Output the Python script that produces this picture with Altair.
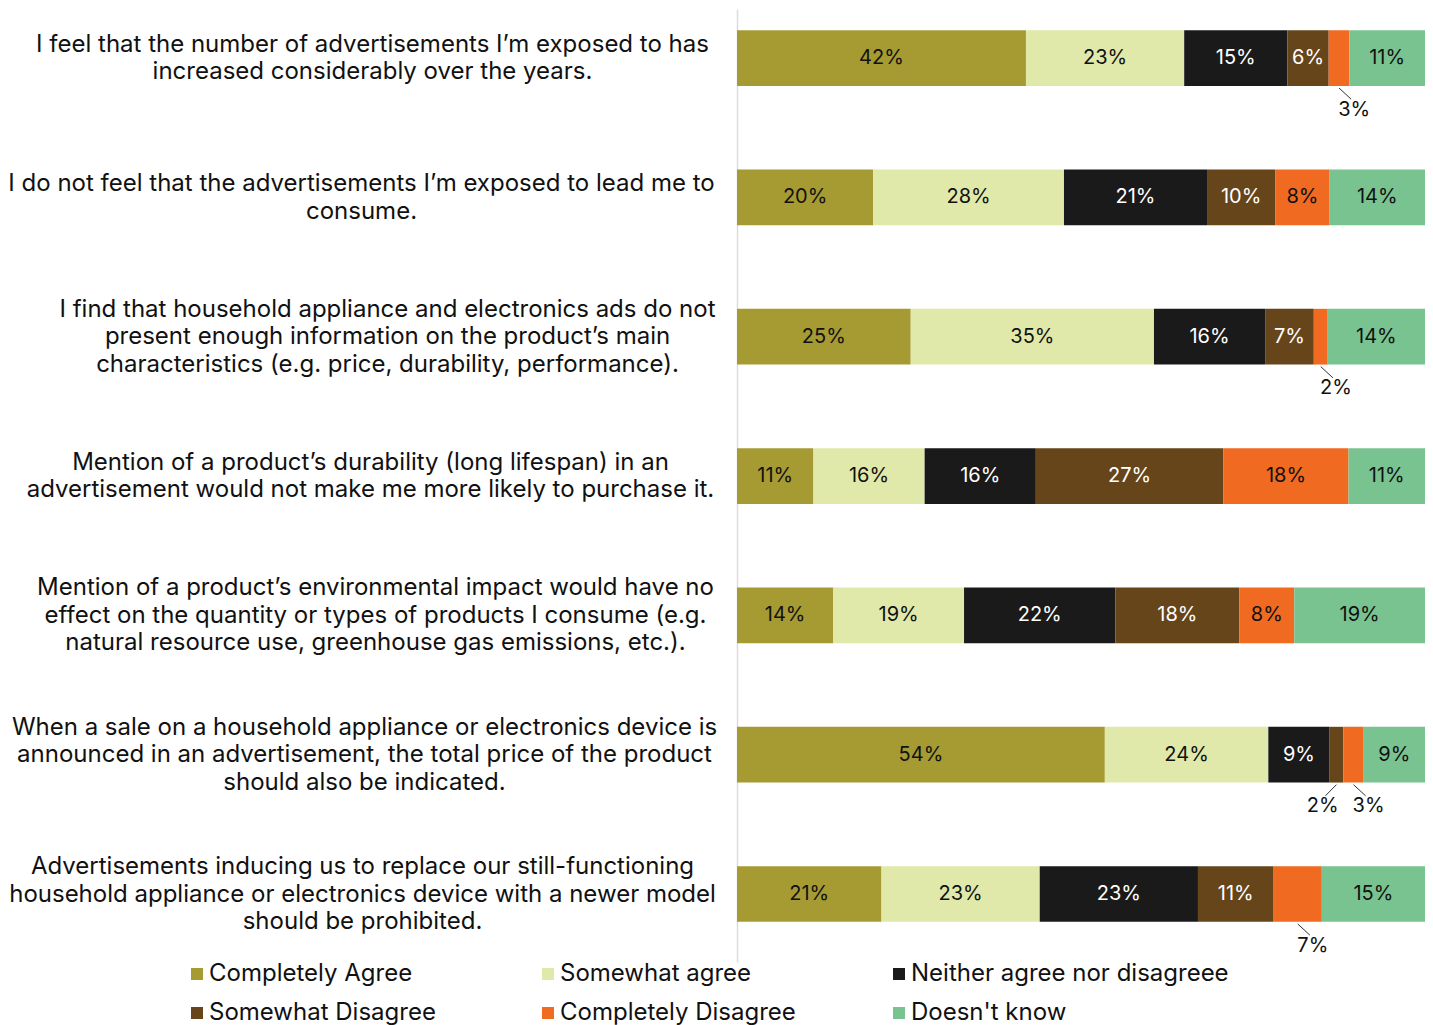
import json
import altair as alt
import pandas as pd

FONT = "Inter"

categories = ["Completely Agree", "Somewhat agree", "Neither agree nor disagreee",
              "Somewhat Disagree", "Completely Disagree", "Doesn't know"]
colors = ["#A69B33", "#E0E9A9", "#1A1A1A", "#66451A", "#F06A22", "#79C390"]

statements = [
    ["I feel that the number of advertisements I’m exposed to has",
     "increased considerably over the years."],
    ["I do not feel that the advertisements I’m exposed to lead me to",
     "consume."],
    ["I find that household appliance and electronics ads do not",
     "present enough information on the product’s main",
     "characteristics (e.g. price, durability, performance)."],
    ["Mention of a product’s durability (long lifespan) in an",
     "advertisement would not make me more likely to purchase it."],
    ["Mention of a product’s environmental impact would have no",
     "effect on the quantity or types of products I consume (e.g.",
     "natural resource use, greenhouse gas emissions, etc.)."],
    ["When a sale on a household appliance or electronics device is",
     "announced in an advertisement, the total price of the product",
     "should also be indicated."],
    ["Advertisements inducing us to replace our still-functioning",
     "household appliance or electronics device with a newer model",
     "should be prohibited."],
]

completely_agree = [42, 20, 25, 11, 14, 54, 21]
somewhat_agree = [23, 28, 35, 16, 19, 24, 23]
neither = [15, 21, 16, 16, 22, 9, 23]
somewhat_disagree = [6, 10, 7, 27, 18, 2, 11]
completely_disagree = [3, 8, 2, 18, 8, 3, 7]
doesnt_know = [11, 14, 14, 11, 19, 9, 15]

series = [completely_agree, somewhat_agree, neither,
          somewhat_disagree, completely_disagree, doesnt_know]

# segments whose label sits below the bar with a leader line
external_labels = [(0, "Completely Disagree"), (2, "Completely Disagree"),
                   (5, "Somewhat Disagree"), (5, "Completely Disagree"),
                   (6, "Completely Disagree")]
white_text = ["Neither agree nor disagreee", "Somewhat Disagree"]

# style: distance (px) from the axis to the centre of each statement block
# (blocks are right-aligned, lines centred within each block)
label_paddings = [365, 376, 350, 367, 362, 373, 375]

records = []
for r in range(len(statements)):
    for i, c in enumerate(categories):
        records.append({"row": r, "cat": c, "order": i, "value": series[i][r],
                        "external": (r, c) in external_labels,
                        "white": c in white_text})
df = pd.DataFrame(records)

LINE_H = 27.5
label_expr = json.dumps(statements, ensure_ascii=False) + "[datum.value]"
three_line_rows = [r for r, s in enumerate(statements) if len(s) == 3]
three_test = " || ".join(f"datum.value == {r}" for r in three_line_rows)
label_offset = {"condition": {"test": three_test, "value": -LINE_H},
                "value": -LINE_H / 2}
label_padding = {"condition": [{"test": f"datum.value == {r}", "value": p}
                               for r, p in enumerate(label_paddings)],
                 "value": 365}

xscale = alt.Scale(domain=[0, 1], nice=False, zero=False)
yscale = alt.Scale(domain=[-0.352, 6.488], reverse=True, nice=False, zero=False)

base = (
    alt.Chart(df)
    .transform_joinaggregate(total="sum(value)", groupby=["row"])
    .transform_window(cum="sum(value)", sort=[alt.SortField("order")],
                      groupby=["row"], frame=[None, 0])
    .transform_calculate(
        x0="(datum.cum - datum.value) / datum.total",
        x1="datum.cum / datum.total",
        xm="(datum.cum - datum.value / 2) / datum.total",
        y0="datum.row - 0.2",
        y1="datum.row + 0.2",
        label="datum.value + '%'",
        dx="datum.cat == 'Somewhat Disagree' ? -0.02 : 0.022",
    )
)

yaxis = alt.Axis(values=list(range(7)), labelExpr=label_expr, labelAlign="center",
                 labelBaseline="middle", labelPadding=label_padding,
                 labelOffset=label_offset,
                 ticks=False, tickSize=0,
                 domainColor="#dcdcdc", domainWidth=1.5, grid=False, title=None,
                 labelFontSize=24, labelFont=FONT, labelColor="#111111",
                 labelLineHeight=LINE_H, labelOverlap=False, labelFlush=False,
                 labelLimit=1000)

bars = base.mark_rect().encode(
    x=alt.X("x0:Q", scale=xscale, axis=None),
    x2="x1:Q",
    y=alt.Y("y0:Q", scale=yscale, axis=yaxis),
    y2="y1:Q",
    color=alt.Color("cat:N", scale=alt.Scale(domain=categories, range=colors),
                    legend=alt.Legend(orient="none", legendX=-552, legendY=953,
                                      direction="horizontal", columns=3,
                                      symbolType="square", symbolSize=144,
                                      symbolStrokeWidth=0, labelFontSize=24,
                                      labelFont=FONT, labelColor="#111111",
                                      title=None, labelLimit=500, labelOffset=0,
                                      columnPadding=9, rowPadding=15,
                                      gridAlign="all", padding=0)),
)

inner_black = base.transform_filter("!datum.external && !datum.white").mark_text(
    font=FONT, fontSize=20, align="center", baseline="middle", color="#111111"
).encode(x="xm:Q", y="row:Q", text="label:N")

inner_white = base.transform_filter("!datum.external && datum.white").mark_text(
    font=FONT, fontSize=20, align="center", baseline="middle", color="white"
).encode(x="xm:Q", y="row:Q", text="label:N")

ext = base.transform_filter("datum.external").transform_calculate(
    xl="datum.xm + datum.dx",
    xb="datum.xm + datum.dx * 0.8",
    yl="datum.row + 0.37",
    ya="datum.row + 0.215",
    yb="datum.row + 0.295",
)

leaders = ext.mark_rule(color="#333333", strokeWidth=1).encode(
    x="xm:Q", x2="xb:Q", y="ya:Q", y2="yb:Q")

ext_text = ext.mark_text(font=FONT, fontSize=20, align="center",
                         baseline="middle", color="#111111").encode(
    x="xl:Q", y="yl:Q", text="label:N")

chart = (
    alt.layer(bars, inner_black, inner_white, leaders, ext_text)
    .properties(width=688, height=953,
                padding={"left": 737, "top": 9, "right": 8, "bottom": 63},
                autosize=alt.AutoSizeParams(type="none"),
                background="white")
    .configure_view(stroke=None)
)

chart.save("out.html", embed_options={"renderer": "svg", "actions": False})
